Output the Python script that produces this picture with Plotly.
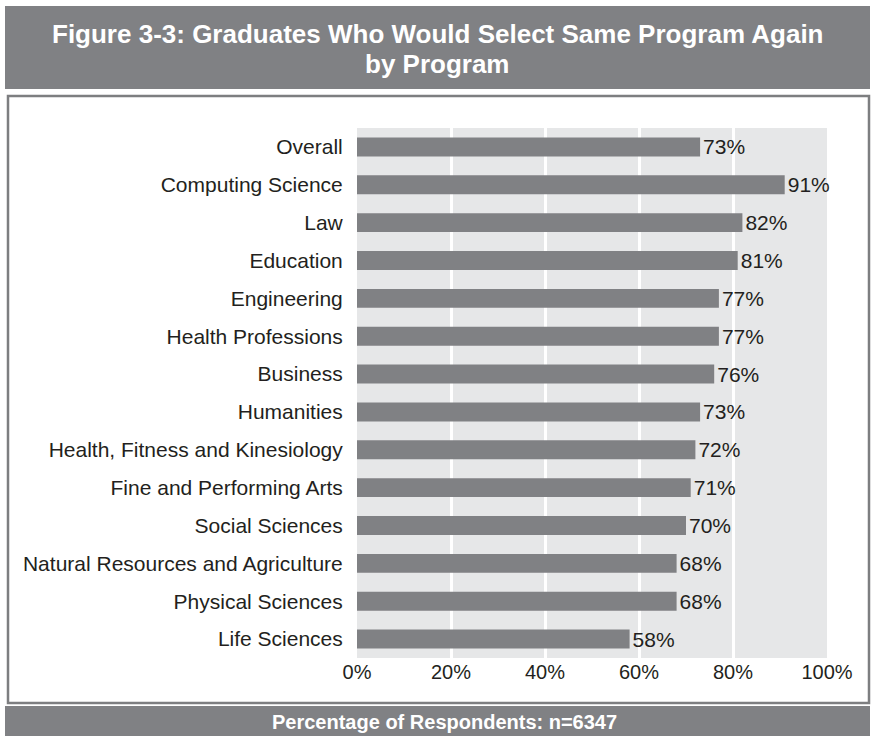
import plotly.graph_objects as go

# Programs, listed top to bottom
programs = [
    "Overall",
    "Computing Science",
    "Law",
    "Education",
    "Engineering",
    "Health Professions",
    "Business",
    "Humanities",
    "Health, Fitness and Kinesiology",
    "Fine and Performing Arts",
    "Social Sciences",
    "Natural Resources and Agriculture",
    "Physical Sciences",
    "Life Sciences",
]
# Percentage who would select the same program again
pct_same_again = [73, 91, 82, 81, 77, 77, 76, 73, 72, 71, 70, 68, 68, 58]

x_ticks = [0, 20, 40, 60, 80, 100]
x_tick_text = ["0%", "20%", "40%", "60%", "80%", "100%"]

title_lines = ["Figure 3-3: Graduates Who Would Select Same Program Again", "by Program"]
footer_text = "Percentage of Respondents: n=6347"

W, H = 875, 736
BANNER = "#808184"
BAR = "#808184"
INK = "#231f20"
FONT = "Liberation Sans, Arial, Helvetica, sans-serif"


def px(x):
    return x / W


def py(y):
    return 1 - y / H


fig = go.Figure(
    go.Bar(
        x=pct_same_again,
        y=programs,
        orientation="h",
        marker=dict(color=BAR, line=dict(width=0)),
        text=[f"{v}%" for v in pct_same_again],
        textposition="outside",
        constraintext="none",
        textfont=dict(size=21, color=INK, family=FONT),
        cliponaxis=False,
        hoverinfo="skip",
    )
)

shapes = [
    # title banner
    dict(type="rect", xref="paper", yref="paper",
         x0=px(5), x1=px(870), y0=py(89), y1=py(6),
         fillcolor=BANNER, line=dict(width=0), layer="below"),
    # chart frame
    dict(type="rect", xref="paper", yref="paper",
         x0=px(8), x1=px(869), y0=py(703), y1=py(96),
         fillcolor="rgba(0,0,0,0)", line=dict(color="#7d7e80", width=2.5),
         layer="below"),
    # footer banner
    dict(type="rect", xref="paper", yref="paper",
         x0=px(5), x1=px(870), y0=py(740), y1=py(706),
         fillcolor=BANNER, line=dict(width=0), layer="below"),
]

annotations = [
    dict(text=f"<b>{title_lines[0]}</b>", xref="paper", yref="paper",
         x=px(437.5), y=py(34), xanchor="center", yanchor="middle",
         showarrow=False, font=dict(size=26, color="white", family=FONT)),
    dict(text=f"<b>{title_lines[1]}</b>", xref="paper", yref="paper",
         x=px(437.5), y=py(64), xanchor="center", yanchor="middle",
         showarrow=False, font=dict(size=26, color="white", family=FONT)),
    dict(text=f"<b>{footer_text}</b>", xref="paper", yref="paper",
         x=px(444), y=py(722), xanchor="center", yanchor="middle",
         showarrow=False, font=dict(size=20, color="white", family=FONT)),
]

fig.update_layout(
    width=W,
    height=H,
    autosize=False,
    margin=dict(l=0, r=0, t=0, b=0),
    paper_bgcolor="white",
    plot_bgcolor="#e6e7e8",
    showlegend=False,
    bargap=0.5,
    shapes=shapes,
    annotations=annotations,
    font=dict(family=FONT, color=INK, size=21),
    xaxis=dict(
        domain=[px(357), px(827)],
        range=[0, 100],
        tickvals=x_ticks,
        ticktext=x_tick_text,
        automargin=False,
        showgrid=True,
        gridcolor="white",
        gridwidth=2.5,
        zeroline=False,
        showline=False,
        ticks="",
        tickfont=dict(size=20, color=INK, family=FONT),
        fixedrange=True,
    ),
    yaxis=dict(
        domain=[py(658), py(128)],
        autorange="reversed",
        automargin=False,
        showgrid=False,
        zeroline=False,
        showline=False,
        ticks="outside",
        ticklen=9,
        tickcolor="rgba(0,0,0,0)",
        tickfont=dict(size=21, color=INK, family=FONT),
        fixedrange=True,
    ),
)

fig.write_html("out.html", config={"displayModeBar": False})
